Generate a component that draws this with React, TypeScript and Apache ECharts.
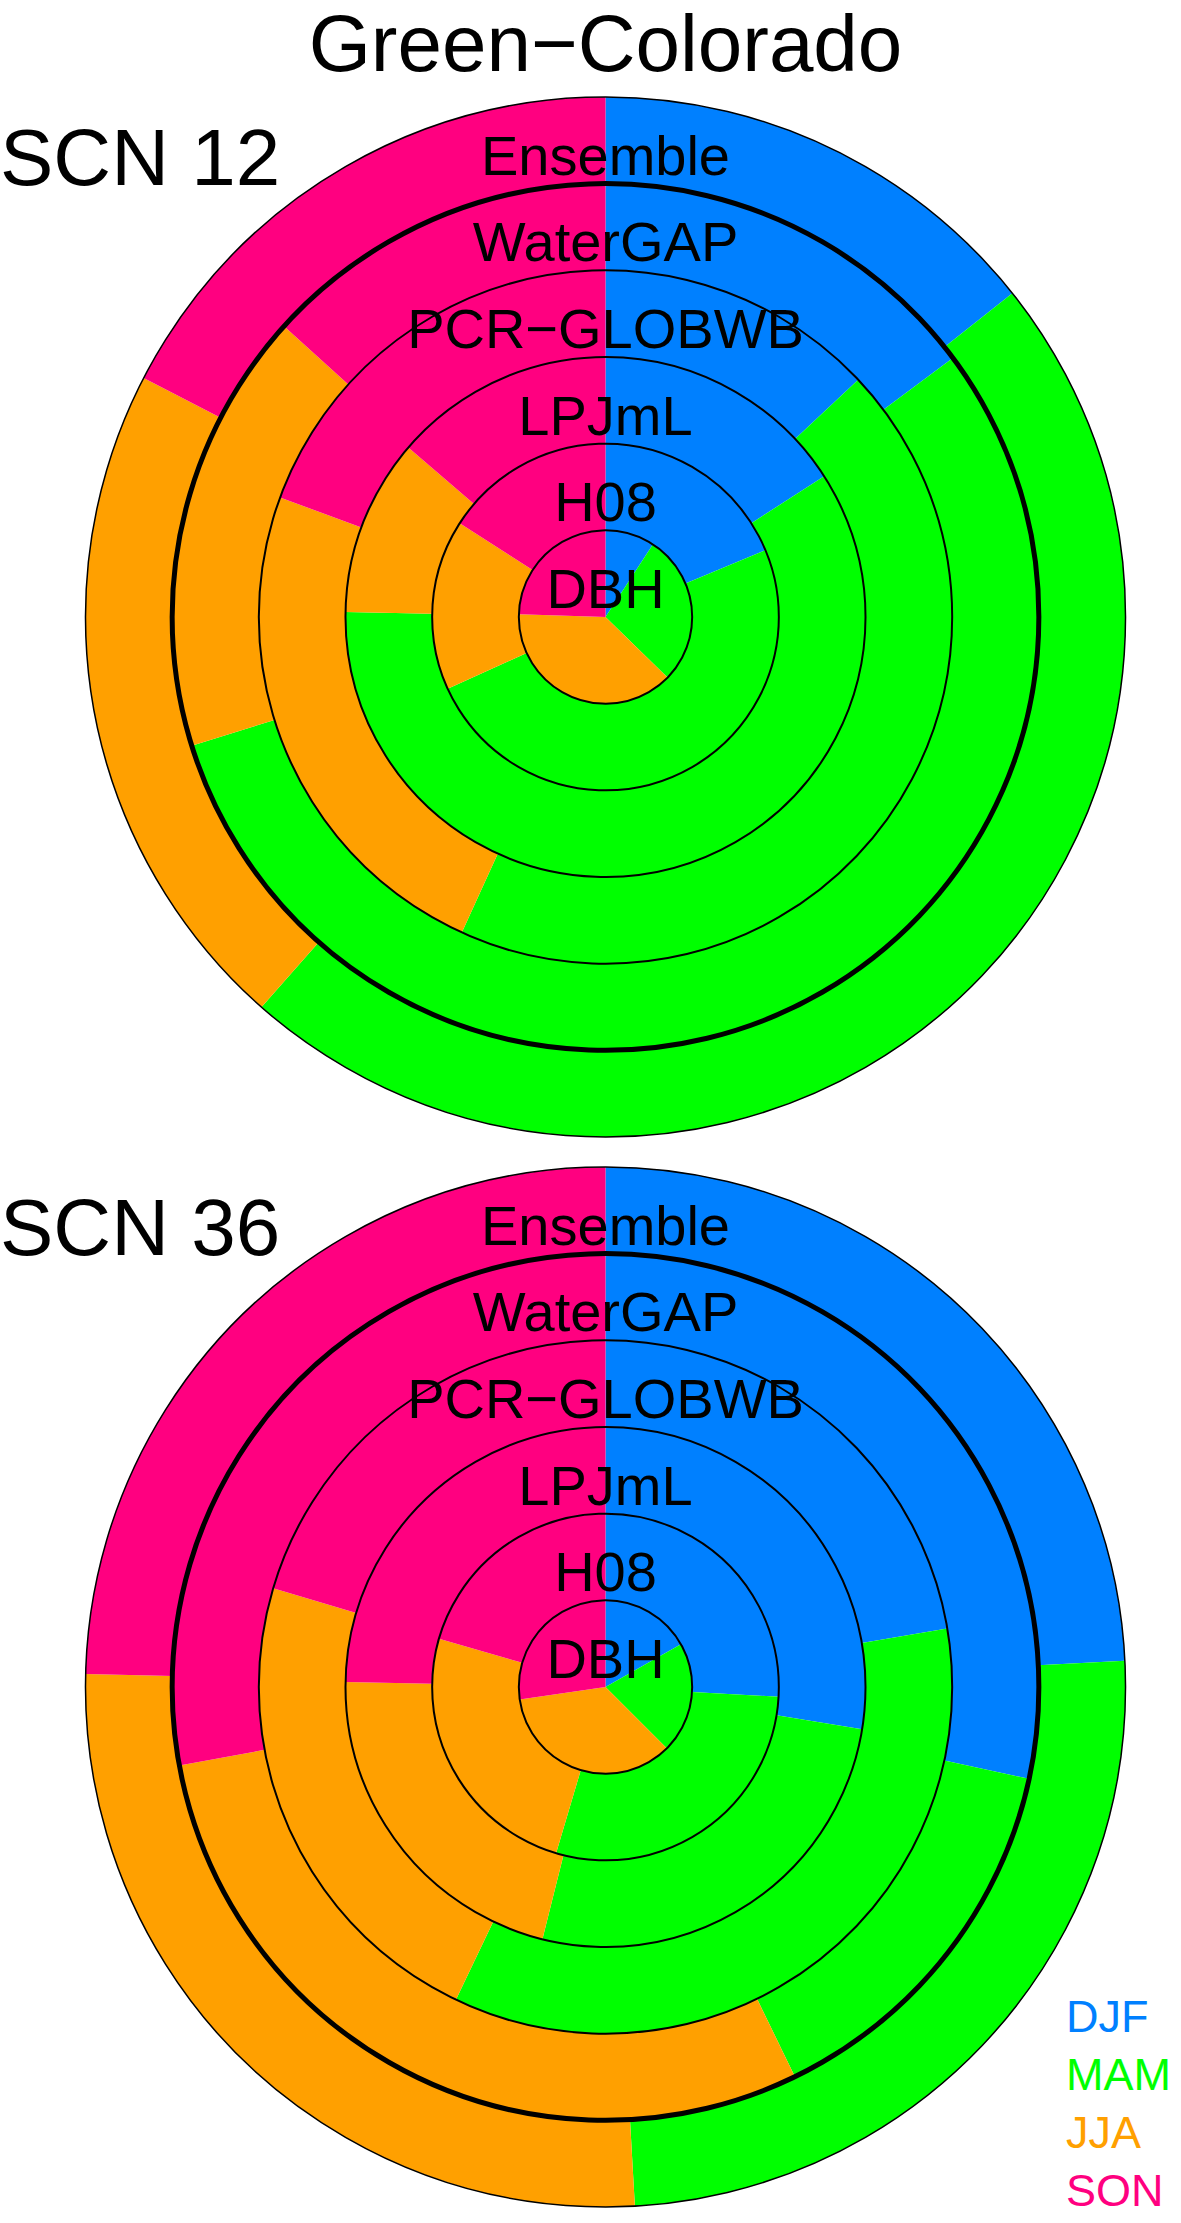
import React, { useEffect, useRef } from "react";
import * as echarts from "echarts";

// ---- data (percent share of each season, per model ring) ----
const seasons = ["DJF", "MAM", "JJA", "SON"];
const seasonColors = ["#0080FF", "#00FF00", "#FFA000", "#FF0080"];
const models = ["DBH", "H08", "LPJmL", "PCR\u2212GLOBWB", "WaterGAP", "Ensemble"];
const title = "Green\u2212Colorado";
const panelLabels = ["SCN 12", "SCN 36"];

// rows follow `models`, columns follow `seasons`
const scn12Shares = [
  [9.2, 28.1, 38.2, 24.5],
  [18.7, 49.5, 15.9, 15.9],
  [15.9, 59.4, 11.0, 13.7],
  [13.0, 43.8, 23.8, 19.4],
  [14.8, 55.4, 16.5, 13.3],
  [14.3, 47.2, 21.1, 17.4],
];
const scn36Shares = [
  [16.8, 20.7, 35.2, 27.3],
  [25.9, 28.7, 24.9, 20.5],
  [27.6, 26.3, 21.4, 24.7],
  [22.3, 34.8, 22.5, 20.4],
  [28.4, 14.4, 29.3, 27.9],
  [24.2, 24.9, 26.3, 24.6],
];

const W = 1181;
const H = 2223;
const CX = 605.5;
const CENTERS_Y = [617, 1687];
const RING = 86.67;
const FONT = '"Liberation Sans", Arial, Helvetica, sans-serif';

function textStyle(text: string, size: number, fill: string, align: string) {
  return {
    text,
    font: `${size}px ${FONT}`,
    lineHeight: size,
    fill,
    textAlign: align,
    textVerticalAlign: "middle",
    align,
    verticalAlign: "middle",
  };
}

export default function App() {
  const ref = useRef<HTMLDivElement>(null);

  useEffect(() => {
    document.body.style.margin = "0";
    const chart = echarts.init(ref.current!, null, { renderer: "svg" });
    const panels = [scn12Shares, scn36Shares];
    const series: any[] = [];
    const graphics: any[] = [];

    panels.forEach((shares, p) => {
      const cy = CENTERS_Y[p];
      models.forEach((m, i) => {
        series.push({
          type: "pie",
          name: panelLabels[p] + " " + m,
          center: [CX, cy],
          radius: [i * RING, (i + 1) * RING],
          startAngle: 90,
          clockwise: true,
          silent: true,
          avoidLabelOverlap: false,
          label: { show: false },
          labelLine: { show: false },
          emphasis: { disabled: true },
          itemStyle: { borderWidth: 0 },
          data: seasons.map((s, k) => ({
            name: s,
            value: shares[i][k],
            itemStyle: { color: seasonColors[k] },
          })),
        });
      });
      // ring outlines
      for (let i = 1; i <= models.length; i++) {
        const lw = i === models.length ? 1.5 : i === models.length - 1 ? 5 : 2;
        graphics.push({
          type: "circle",
          z: 100,
          silent: true,
          shape: { cx: CX, cy, r: i * RING },
          style: { fill: "none", stroke: "#000", lineWidth: lw },
        });
      }
      // ring labels
      models.forEach((m, i) => {
        graphics.push({
          type: "text",
          z: 101,
          silent: true,
          x: CX,
          y: cy - i * RING - 28.5,
          style: textStyle(m, 56, "#000", "center"),
        });
      });
      // panel label
      graphics.push({
        type: "text",
        z: 101,
        silent: true,
        x: 0,
        y: cy - 460,
        style: textStyle(panelLabels[p], 80, "#000", "left"),
      });
    });

    // title
    graphics.push({
      type: "text",
      z: 101,
      silent: true,
      x: CX,
      y: 43,
      style: textStyle(title, 80, "#000", "center"),
    });

    // legend (coloured season names)
    seasons.forEach((s, k) => {
      graphics.push({
        type: "text",
        z: 101,
        silent: true,
        x: 1066,
        y: 2016 + k * 58.3,
        style: textStyle(s, 45, seasonColors[k], "left"),
      });
    });

    chart.setOption({
      animation: false,
      backgroundColor: "#fff",
      series,
      graphic: { elements: graphics },
    });

    return () => chart.dispose();
  }, []);

  return <div ref={ref} style={{ width: W, height: H }} />;
}
